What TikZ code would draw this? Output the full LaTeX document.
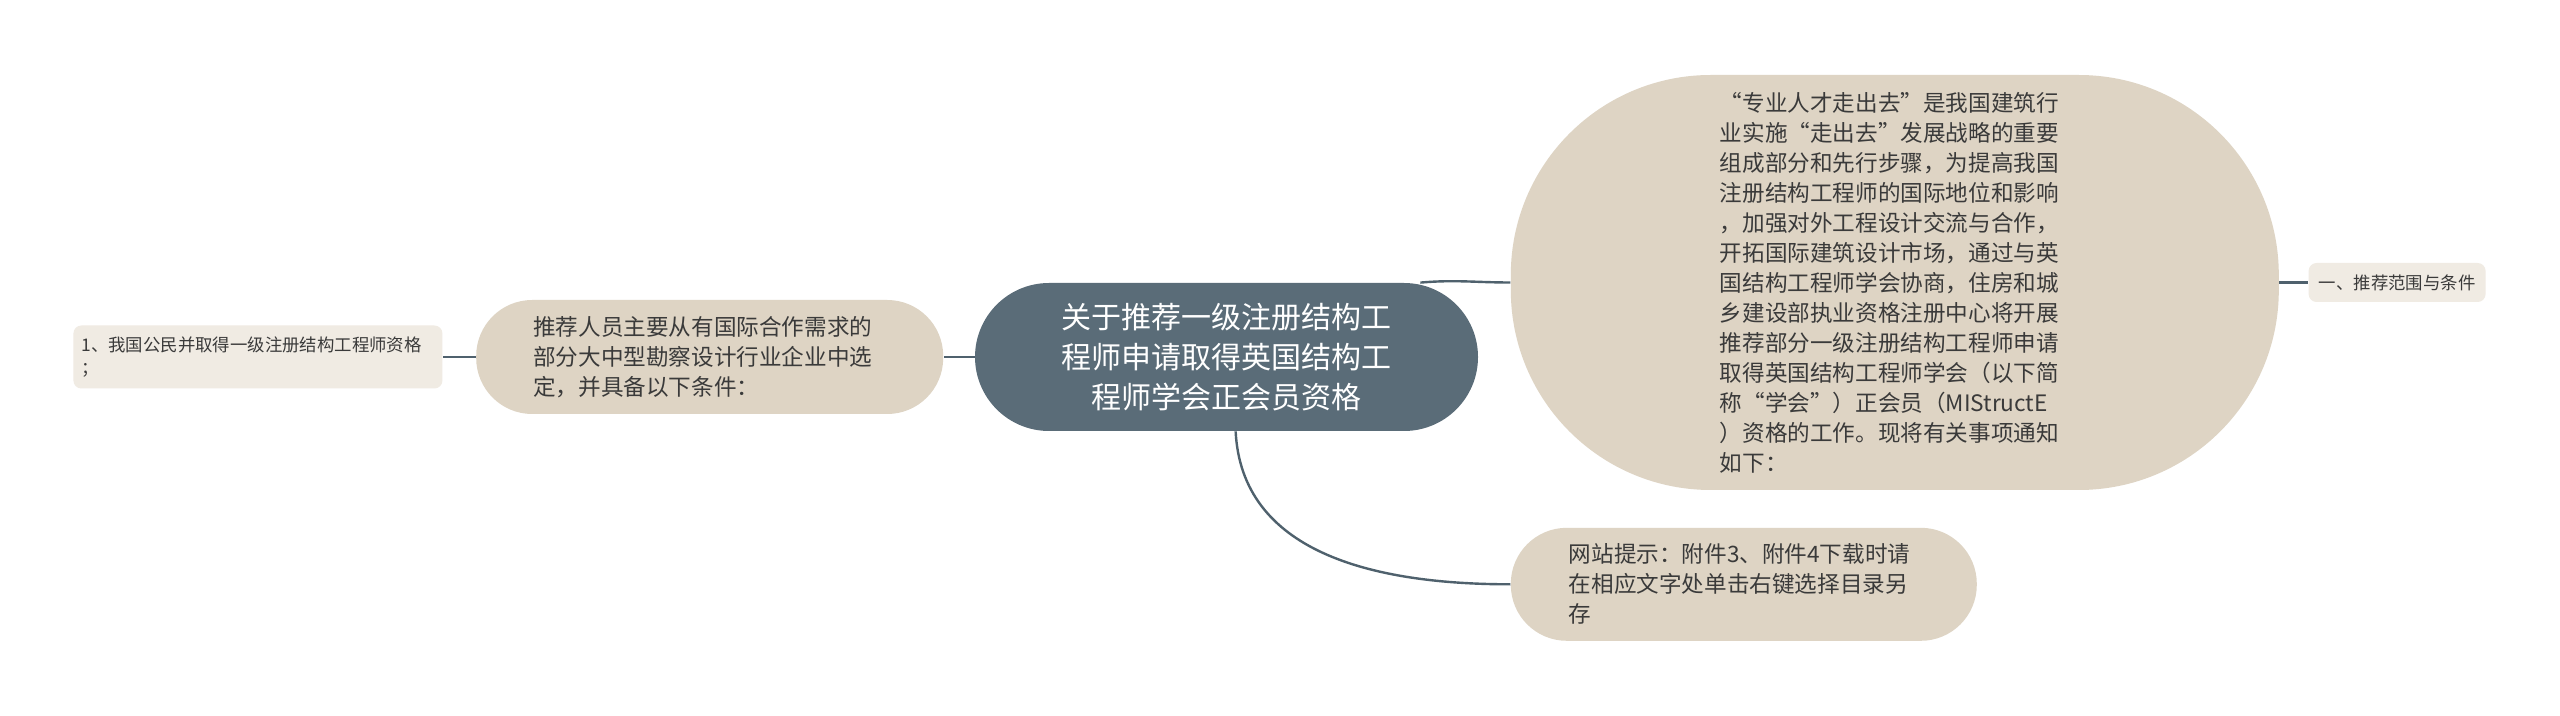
\documentclass[tikz,border=0pt]{standalone}
\usepackage{fontspec}
\setmainfont{Noto Sans CJK SC}
\usepackage{xcolor}
\usetikzlibrary{positioning}
\definecolor{rootfill}{HTML}{5A6C78}
\definecolor{branchfill}{HTML}{DED4C4}
\definecolor{leaffill}{HTML}{F0EBE3}
\definecolor{linkcol}{HTML}{4F616D}
\definecolor{textcol}{HTML}{3A3A3A}

\begin{document}
\begin{tikzpicture}[
  root/.style={fill=rootfill, text=white, rounded corners=37pt, minimum width=251.5pt, minimum height=74pt, text width=200pt, align=center, font=\fontsize{15pt}{20pt}\selectfont},
  branch/.style={fill=branchfill, text=textcol, inner sep=4pt, align=left, font=\fontsize{11.3pt}{15pt}\selectfont},
  leaf/.style={fill=leaffill, text=textcol, rounded corners=4pt, inner xsep=4pt, inner ysep=2pt, font=\fontsize{8.7pt}{11.5pt}\selectfont},
  link/.style={draw=linkcol, line width=1.2pt}]
  \path[fill=white] (0,0) rectangle (1280pt,-358pt);
  \node[root] (central) at (613.25pt,-178.5pt) {关于推荐一级注册结构工\\程师申请取得英国结构工\\程师学会正会员资格};
  \node[branch, rounded corners=28pt, minimum width=233.5pt, minimum height=57pt, text width=176.5pt, left=15.5pt of central] (select) {推荐人员主要从有国际合作需求的\\部分大中型勘察设计行业企业中选\\定，并具备以下条件：};
  \node[leaf, minimum width=184.5pt, minimum height=31.5pt, text width=176.5pt, align=left, left=16.5pt of select] (citizen) {1、我国公民并取得一级注册结构工程师资格\\；};
  \node[branch, rounded corners=100pt, minimum width=384pt, minimum height=207.5pt, text width=175pt, right=16pt of central, yshift=37.25pt] (notice) {“专业人才走出去”是我国建筑行\\业实施“走出去”发展战略的重要\\组成部分和先行步骤，为提高我国\\注册结构工程师的国际地位和影响\\，加强对外工程设计交流与合作，\\开拓国际建筑设计市场，通过与英\\国结构工程师学会协商，住房和城\\乡建设部执业资格注册中心将开展\\推荐部分一级注册结构工程师申请\\取得英国结构工程师学会（以下简\\称“学会”）正会员（MIStructE\\）资格的工作。现将有关事项通知\\如下：};
  \node[leaf, minimum width=88.5pt, minimum height=19.5pt, right=14.5pt of notice] (range) {一、推荐范围与条件};
  \node[branch, rounded corners=28pt, minimum width=233pt, minimum height=56.5pt, text width=175pt, below=18.5pt of notice.south west, anchor=north west] (tip) {网站提示：附件3、附件4下载时请\\在相应文字处单击右键选择目录另\\存};

  \draw[link] (central) -- (select);
  \draw[link] (select) -- (citizen);
  \draw[link] (central.21.5) to[out=5,in=180] (notice.west);
  \draw[link] (notice) -- (range);
  \draw[link] (central.-83) .. controls +(3pt,-60pt) and +(-70pt,0pt) .. (tip.west);
\end{tikzpicture}
\end{document}
